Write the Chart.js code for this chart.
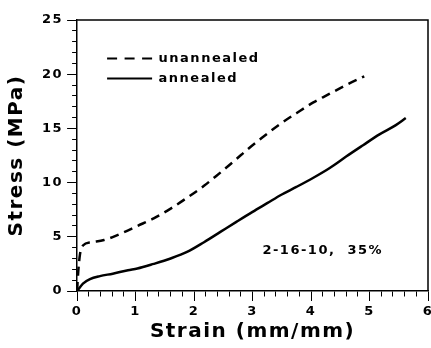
<!DOCTYPE html>
<html>
<head>
<meta charset="utf-8">
<script src="https://cdn.jsdelivr.net/npm/chart.js@4/dist/chart.umd.min.js"></script>
<style>
  html, body { margin: 0; padding: 0; background: #fff; }
  #wrap { width: 431px; height: 348px; }
</style>
</head>
<body>
<div id="wrap"><canvas id="c"></canvas></div>
<script>
// Tensile curves: strain (mm/mm) vs stress (MPa)
const strainUnannealed = [0, 0.02, 0.05, 0.1, 0.24, 0.46, 0.75, 1.03, 1.31, 1.6, 1.88, 2.17, 2.33, 2.5, 2.73, 2.9, 3.13, 3.47, 3.75, 4.04, 4.32, 4.6, 4.91];
const stressUnannealed = [0, 1.8, 3.4, 4.2, 4.5, 4.7, 5.3, 6.0, 6.7, 7.6, 8.6, 9.7, 10.4, 11.15, 12.2, 13.0, 14.0, 15.4, 16.4, 17.4, 18.2, 19.0, 19.8];

const strainAnnealed = [0, 0.1, 0.22, 0.39, 0.61, 0.87, 1.03, 1.31, 1.6, 1.88, 2.17, 2.45, 2.73, 3.0, 3.25, 3.5, 3.75, 4.04, 4.32, 4.6, 4.89, 5.17, 5.45, 5.62];
const stressAnnealed = [0, 0.68, 1.09, 1.37, 1.6, 1.92, 2.07, 2.5, 3.0, 3.6, 4.5, 5.45, 6.4, 7.3, 8.1, 8.9, 9.6, 10.45, 11.35, 12.4, 13.45, 14.45, 15.3, 15.95];

const seriesNames = ['unannealed', 'annealed'];
const xTickLabels = [0, 1, 2, 3, 4, 5, 6];
const yTickLabels = [0, 5, 10, 15, 20, 25];

const noteText = '2-16-10,  35%';
const notePos = [4.2, 3.7];

const FONT = '"DejaVu Sans", "Liberation Sans", sans-serif';
const SPACING = '1.5px';

const toPoints = (xs, ys) => xs.map((x, i) => ({ x, y: ys[i] }));
const isLabelled = (list, v) => list.some(t => Math.abs(t - v) < 1e-6);

// Letter spacing for all canvas text
const spacingPlugin = {
  id: 'spacing',
  beforeUpdate(chart) { chart.ctx.letterSpacing = SPACING; },
  beforeDraw(chart) { chart.ctx.letterSpacing = SPACING; }
};

// Closed frame around the plot area
const framePlugin = {
  id: 'frame',
  afterDraw(chart) {
    const { ctx, chartArea: a } = chart;
    ctx.save();
    ctx.strokeStyle = '#000';
    ctx.lineWidth = 1.5;
    ctx.beginPath();
    ctx.moveTo(a.left, a.top);
    ctx.lineTo(a.right, a.top);
    ctx.lineTo(a.right, a.bottom);
    ctx.stroke();
    ctx.restore();
  }
};

// Sample note inside the plot
const notePlugin = {
  id: 'note',
  afterDatasetsDraw(chart) {
    const { ctx, scales } = chart;
    ctx.save();
    ctx.letterSpacing = SPACING;
    ctx.font = 'bold 13px ' + FONT;
    ctx.fillStyle = '#000';
    ctx.textAlign = 'center';
    ctx.textBaseline = 'middle';
    ctx.fillText(noteText, scales.x.getPixelForValue(notePos[0]), scales.y.getPixelForValue(notePos[1]));
    ctx.restore();
  }
};

// Legend sits inside the plot, offset from the top-left corner
const legendOffsetPlugin = {
  id: 'legendOffset',
  afterLayout(chart) {
    if (!chart.legend) return;
    chart.legend.left = chart.chartArea.left + 23;
    chart.legend.top = chart.chartArea.top + 25;
  }
};

new Chart(document.getElementById('c'), {
  type: 'line',
  data: {
    datasets: [
      {
        label: seriesNames[0],
        data: toPoints(strainUnannealed, stressUnannealed),
        borderColor: '#000',
        backgroundColor: '#000',
        borderWidth: 2.5,
        borderDash: [9, 6],
        pointRadius: 0,
        cubicInterpolationMode: 'monotone',
        fill: false
      },
      {
        label: seriesNames[1],
        data: toPoints(strainAnnealed, stressAnnealed),
        borderColor: '#000',
        backgroundColor: '#000',
        borderWidth: 2.5,
        pointRadius: 0,
        cubicInterpolationMode: 'monotone',
        fill: false
      }
    ]
  },
  options: {
    responsive: true,
    maintainAspectRatio: false,
    animation: false,
    events: [],
    layout: { padding: { left: 1, right: 3, top: 20, bottom: 0 } },
    plugins: {
      tooltip: { enabled: false },
      legend: {
        position: 'chartArea',
        align: 'start',
        labels: {
          color: '#000',
          font: { family: FONT, size: 13, weight: 'bold' },
          usePointStyle: true,
          pointStyle: 'line',
          pointStyleWidth: 45,
          padding: 7,
          generateLabels(chart) {
            const items = Chart.defaults.plugins.legend.labels.generateLabels(chart);
            return items.map((it, i) => Object.assign(it, {
              lineWidth: 1.8,
              lineDash: i === 0 ? [10, 7.5] : [],
              pointStyle: 'line'
            }));
          }
        }
      }
    },
    scales: {
      x: {
        type: 'linear',
        min: 0,
        max: 6,
        afterFit(scale) { scale.paddingRight = 0; },
        border: { display: true, color: '#000', width: 1.5 },
        grid: {
          drawOnChartArea: false,
          drawTicks: true,
          tickLength: 10,
          tickColor: '#000',
          tickWidth: 1,
          tickBorderDash: (ctx) => (ctx.tick && isLabelled(xTickLabels, ctx.tick.value)) ? [] : [5, 100]
        },
        ticks: {
          stepSize: 0.2,
          autoSkip: false,
          maxRotation: 0,
          padding: 4,
          color: '#000',
          font: { family: FONT, size: 13, weight: 'bold', lineHeight: 1 },
          callback: (v) => isLabelled(xTickLabels, v) ? String(Math.round(v)) : ''
        },
        title: {
          display: true,
          text: 'Strain (mm/mm)',
          color: '#000',
          font: { family: FONT, size: 20, weight: 'bold', lineHeight: 1 },
          padding: { top: 0, bottom: 6 }
        }
      },
      y: {
        type: 'linear',
        min: 0,
        max: 25,
        border: { display: true, color: '#000', width: 1.5 },
        grid: {
          drawOnChartArea: false,
          drawTicks: true,
          tickLength: 10,
          tickColor: '#000',
          tickWidth: 1,
          tickBorderDash: (ctx) => (ctx.tick && isLabelled(yTickLabels, ctx.tick.value)) ? [] : [0, 5, 5, 100]
        },
        ticks: {
          stepSize: 1,
          autoSkip: false,
          padding: 4,
          color: '#000',
          font: { family: FONT, size: 13, weight: 'bold', lineHeight: 1 },
          callback: (v) => isLabelled(yTickLabels, v) ? String(v) : ''
        },
        title: {
          display: true,
          text: 'Stress (MPa)',
          color: '#000',
          font: { family: FONT, size: 20, weight: 'bold', lineHeight: 1.2 },
          padding: { top: 4, bottom: 9 }
        }
      }
    }
  },
  plugins: [spacingPlugin, legendOffsetPlugin, notePlugin, framePlugin]
});
</script>
</body>
</html>
